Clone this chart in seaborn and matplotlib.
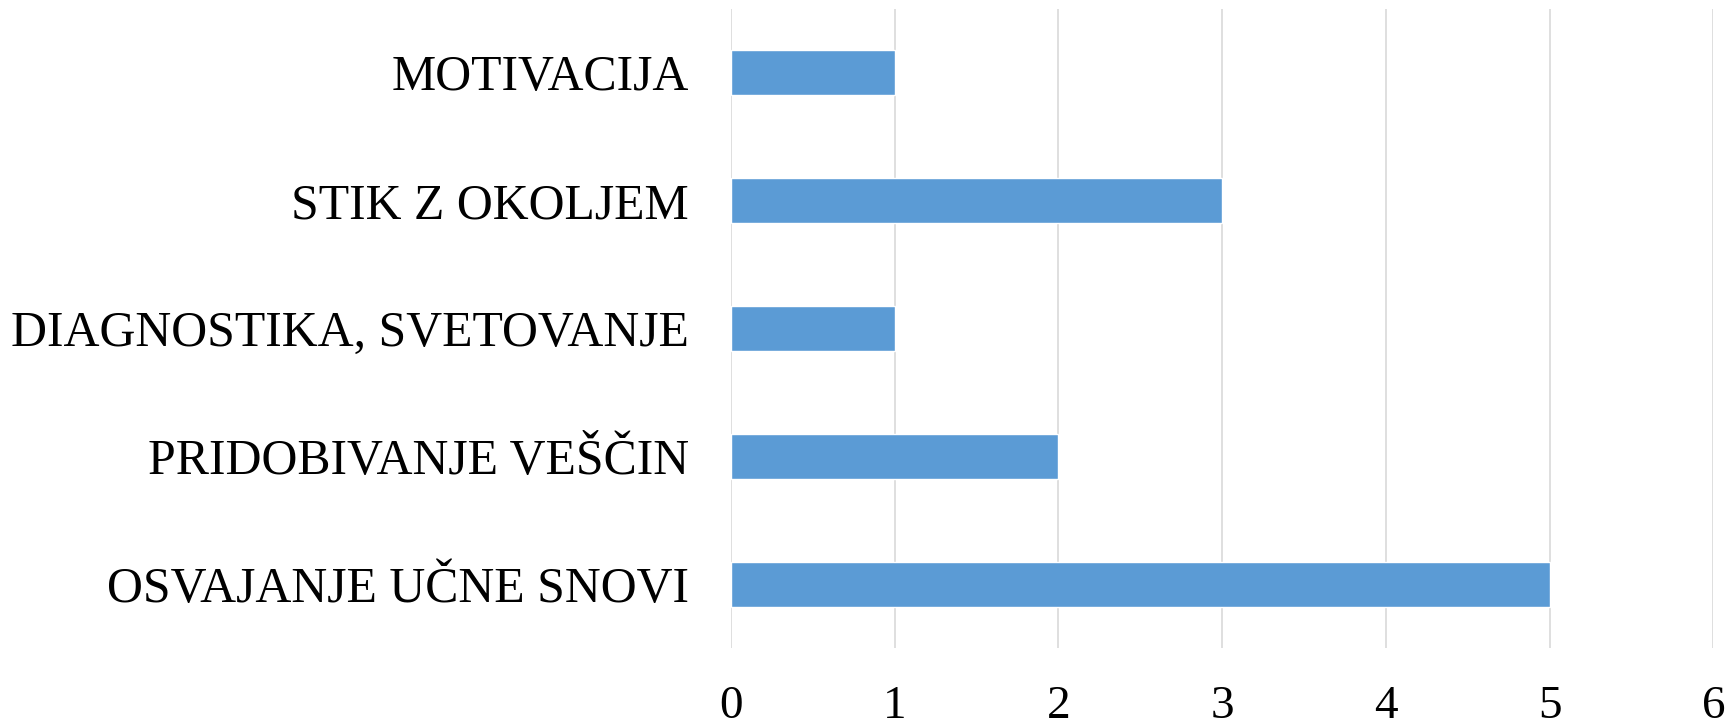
import pandas as pd
import matplotlib.pyplot as plt
import seaborn as sns

# Responses per category (top to bottom as shown)
df = pd.DataFrame({
    "Kategorija": [
        "MOTIVACIJA",
        "STIK Z OKOLJEM",
        "DIAGNOSTIKA, SVETOVANJE",
        "PRIDOBIVANJE VEŠČIN",
        "OSVAJANJE UČNE SNOVI",
    ],
    "Število": [1, 3, 1, 2, 5],
})

sns.set_theme(style="white")
plt.rcParams["font.family"] = ["Liberation Serif", "DejaVu Serif"]

fig = plt.figure(figsize=(17.36, 7.25), dpi=100)
ax = fig.add_axes([0.421, 0.106, 0.566, 0.882])

sns.barplot(data=df, x="Število", y="Kategorija", color="#5b9bd5",
            width=0.35, saturation=1, ax=ax)

ax.set_xlim(0, 6)
ax.set_ylim(4.5, -0.5)
ax.set_xticks(range(7))
ax.grid(axis="x", color="#d9d9d9", linewidth=1.2)
ax.set_axisbelow(True)
for s in ax.spines.values():
    s.set_visible(False)
ax.set_xlabel("")
ax.set_ylabel("")
ax.tick_params(axis="y", length=0, pad=30, labelsize=35.8, labelcolor="black")
ax.tick_params(axis="x", length=0, pad=27, labelsize=34, labelcolor="black")

plt.savefig("out.png", dpi=100)
plt.close()
